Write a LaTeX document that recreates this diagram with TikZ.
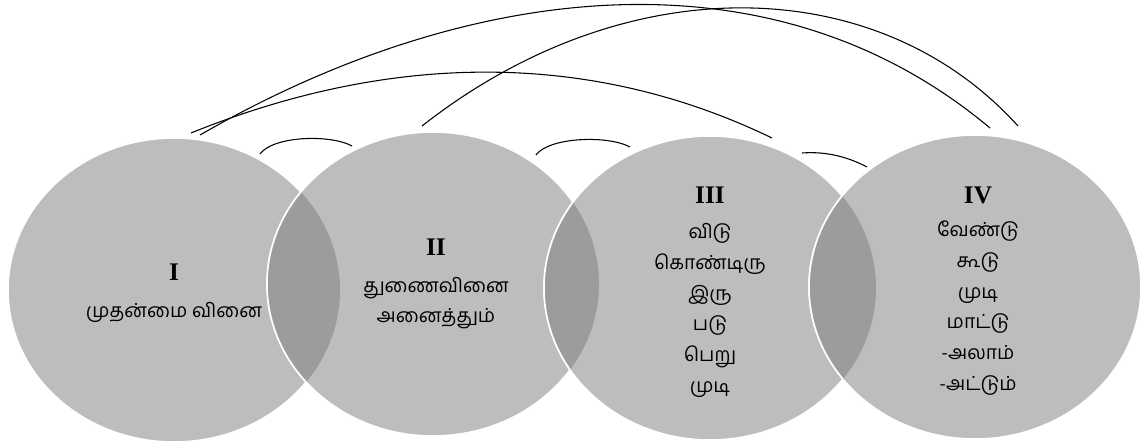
\documentclass[tikz,border=0pt]{standalone}
\usepackage{fontspec}
\setmainfont{Liberation Serif}
\newfontfamily\tamil[Script=Tamil]{Hind Madurai}
\usetikzlibrary{positioning}

\definecolor{discgray}{RGB}{189,189,189}
\definecolor{lensgray}{RGB}{156,156,156}

\tikzset{every picture/.style={line width=0.75pt}}
\tikzset{
  disc/.style={fill=discgray},
  lens/.style={fill=lensgray},
  rim/.style={draw=white, line width=1.2},
  numeral/.style={font=\fontsize{19}{21}\selectfont\bfseries, inner sep=0.75pt},
  words/.style={font=\tamil\fontsize{14.5}{23}\selectfont, align=center, inner sep=0.75pt},
  link/.style={draw=black, line width=0.8},
}

\begin{document}
\begin{tikzpicture}[x=0.75pt,y=0.75pt,yscale=-1]

\useasboundingbox (0,0) rectangle (1140,447);

\coordinate (c1) at (174,290);
\coordinate (c2) at (433,284);
\coordinate (c3) at (710,288);
\coordinate (c4) at (975,287);

% discs
\path [disc] (c1) ellipse [x radius=166, y radius=152];
\path [rim] (c1) ellipse [x radius=166, y radius=152];
\path [disc] (c2) ellipse [x radius=166, y radius=152];
\path [rim] (c2) ellipse [x radius=166, y radius=152];
\path [disc] (c3) ellipse [x radius=166, y radius=152];
\path [rim] (c3) ellipse [x radius=166, y radius=152];
\path [disc] (c4) ellipse [x radius=166, y radius=152];
\path [rim] (c4) ellipse [x radius=166, y radius=152];

% overlaps
\begin{scope}
\clip (c1) ellipse [x radius=166, y radius=152];
\path [lens] (c2) ellipse [x radius=166, y radius=152];
\path [rim] (c2) ellipse [x radius=166, y radius=152];
\end{scope}
\begin{scope}
\clip (c2) ellipse [x radius=166, y radius=152];
\path [lens] (c3) ellipse [x radius=166, y radius=152];
\path [rim] (c3) ellipse [x radius=166, y radius=152];
\end{scope}
\begin{scope}
\clip (c3) ellipse [x radius=166, y radius=152];
\path [lens] (c4) ellipse [x radius=166, y radius=152];
\path [rim] (c4) ellipse [x radius=166, y radius=152];
\end{scope}

% arc ends
\coordinate (t1a) at (200,135);
\coordinate (t1c) at (191,133);
\coordinate (t2) at (422,126);
\coordinate (t3) at (772,138);
\coordinate (t4a) at (990,128);
\coordinate (t4b) at (1018,126);
\coordinate (s12a) at (260,154);
\coordinate (s12b) at (352,146);
\coordinate (s23a) at (536,155);
\coordinate (s23b) at (630,147);
\coordinate (s34a) at (802,153);
\coordinate (s34b) at (867,167);

\draw [link] (t1a) .. controls (462,-16) and (768,-58) .. (t4a) ;
\draw [link] (t2) .. controls (627,-35) and (879,-28) .. (t4b) ;
\draw [link] (t1c) .. controls (386,54) and (586,48) .. (t3) ;
\draw [link] (s12a) .. controls (273,136) and (330,134) .. (s12b) ;
\draw [link] (s23a) .. controls (549,137) and (608,135) .. (s23b) ;
\draw [link] (s34a) .. controls (828,151) and (850,158) .. (s34b) ;

% labels
\node (n1) at (174,272) [numeral] {I};
\node (w1) [words, below=14pt of n1] {முதன்மை வினை};
\node (n2) at (436,247) [numeral] {II};
\node (w2) [words, below=14pt of n2] {துணைவினை\\அனைத்தும்};
\node (n3) at (710,195) [numeral] {III};
\node (w3) [words, below=13pt of n3] {விடு\\கொண்டிரு\\இரு\\படு\\பெறு\\முடி};
\node (n4) at (978,195) [numeral] {IV};
\node (w4) [words, below=11pt of n4] {வேண்டு\\கூடு\\முடி\\மாட்டு\\-அலாம்\\-அட்டும்};

\end{tikzpicture}
\end{document}
